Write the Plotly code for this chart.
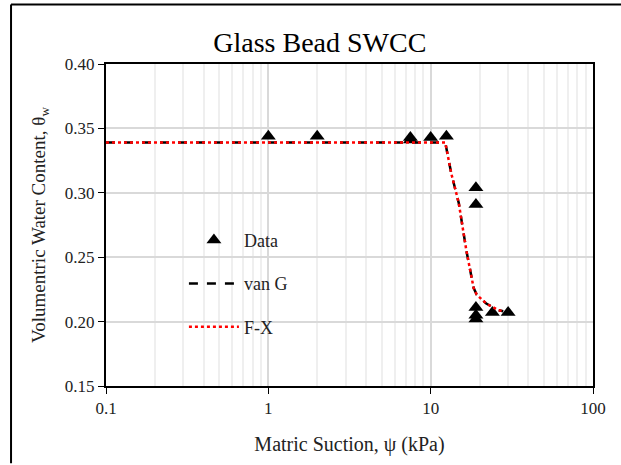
import plotly.graph_objects as go

# Measured data
data_x = [1, 2, 7.5, 7.5, 10, 12.5, 19, 19, 19, 19, 19, 24, 30]
data_y = [0.344, 0.344, 0.343, 0.341, 0.343, 0.344, 0.304, 0.291, 0.211, 0.205, 0.202, 0.207, 0.207]

# Fitted curves
fit_x = [0.1, 1, 5, 10, 12.3, 13.4, 14.9, 16.6, 18.4, 19.2, 22, 26, 28]
vang_y = [0.339, 0.339, 0.339, 0.339, 0.339, 0.315, 0.292, 0.255, 0.226, 0.221, 0.214, 0.209, 0.208]
fx_y = [0.339, 0.339, 0.339, 0.339, 0.339, 0.315, 0.292, 0.255, 0.226, 0.221, 0.214, 0.209, 0.208]

y_ticks = [0.15, 0.20, 0.25, 0.30, 0.35, 0.40]
x_ticks = [0.1, 1, 10, 100]
x_ticklabels = ["0.1", "1", "10", "100"]

FONT = "Liberation Serif"

fig = go.Figure()
fig.add_trace(go.Scatter(x=data_x, y=data_y, mode="markers", name="Data",
                         marker=dict(symbol="triangle-up", size=13, color="black"),
                         legendgroup="a"))
fig.add_trace(go.Scatter(x=fit_x, y=vang_y, mode="lines", name="van G",
                         line=dict(color="black", width=2.5, dash="dash"),
                         legendgroup="b"))
fig.add_trace(go.Scatter(x=fit_x, y=fx_y, mode="lines", name="F-X",
                         line=dict(color="#ff0000", width=2.5, dash="dot"),
                         legendgroup="c"))

fig.update_layout(
    width=621, height=465,
    margin=dict(l=106, r=28, t=64, b=79),
    paper_bgcolor="white", plot_bgcolor="white",
    font=dict(family=FONT, size=17, color="#222"),
    title=dict(text="Glass Bead SWCC", x=0.515, xanchor="center", y=0.91, yanchor="middle",
               font=dict(family=FONT, size=28, color="black")),
    showlegend=True,
    legend=dict(x=0.16, y=0.51, xanchor="left", yanchor="top", bgcolor="rgba(0,0,0,0)",
                font=dict(family=FONT, size=18, color="#222"), tracegroupgap=17,
                itemwidth=50),
    shapes=[
        dict(type="line", xref="paper", yref="paper", x0=-0.195, x1=-0.195, y0=-0.24, y1=1.185,
             line=dict(color="black", width=2)),
        dict(type="line", xref="paper", yref="paper", x0=-0.195, x1=1.06, y0=1.185, y1=1.185,
             line=dict(color="black", width=2)),
    ],
)

fig.update_xaxes(
    type="log", range=[-1, 2],
    tickvals=x_ticks, ticktext=x_ticklabels,
    showline=True, linecolor="black", linewidth=2, mirror=True,
    ticks="outside", ticklen=6, tickcolor="black", tickwidth=1,
    showgrid=True, gridcolor="#d9d9d9", gridwidth=1.5,
    minor=dict(dtick="D1", showgrid=True, gridcolor="#efefef", gridwidth=1.5, ticks=""),
    title=dict(text="Matric Suction, ψ (kPa)", font=dict(family=FONT, size=20, color="#222"), standoff=20),
    tickfont=dict(family=FONT, size=17, color="#222"),
    zeroline=False,
)
fig.update_yaxes(
    range=[0.15, 0.40], tickvals=y_ticks, tickformat=".2f",
    showline=True, linecolor="black", linewidth=2, mirror=True,
    ticks="outside", ticklen=6, tickcolor="black", tickwidth=1,
    showgrid=True, gridcolor="#d9d9d9", gridwidth=1.5,
    title=dict(text="Volumentric Water Content, θ<sub>w</sub>", font=dict(family=FONT, size=19, color="#222"), standoff=14),
    tickfont=dict(family=FONT, size=17, color="#222"),
    zeroline=False,
)

fig.write_html("out.html")
